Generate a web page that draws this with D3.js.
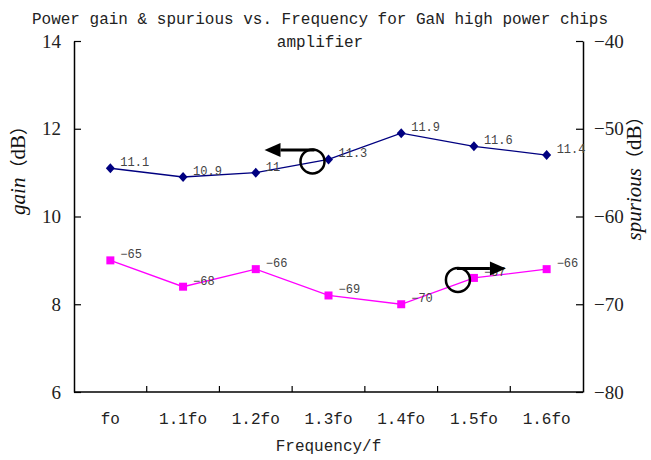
<!DOCTYPE html>
<html>
<head>
<meta charset="utf-8">
<script src="https://cdn.jsdelivr.net/npm/d3@7"></script>
<style>
  html, body { margin: 0; padding: 0; background: #fff; }
  svg { display: block; }
  .serif { font-family: "Liberation Serif", "Times New Roman", "DejaVu Serif", serif; }
  .mono { font-family: "Liberation Mono", "DejaVu Sans Mono", monospace; }
  .cjk { font-family: "Noto Sans CJK SC", sans-serif; }
</style>
</head>
<body>
<svg id="chart" width="651" height="460"></svg>
<script>
const categories = ["fo", "1.1fo", "1.2fo", "1.3fo", "1.4fo", "1.5fo", "1.6fo"];
const gain = [11.1, 10.9, 11, 11.3, 11.9, 11.6, 11.4];
const spurious = [-65, -68, -66, -69, -70, -67, -66];
const gainTicks = [6, 8, 10, 12, 14];
const spurTicks = [-80, -70, -60, -50, -40];
const titleLines = ["Power gain & spurious vs. Frequency for GaN high power chips", "amplifier"];
const xTitle = "Frequency/f";

const W = 651, H = 460;
const plot = { left: 74, right: 583, top: 41, bottom: 392 };
const svg = d3.select("#chart");

const x = d3.scaleBand().domain(categories).range([plot.left, plot.right]).paddingInner(0).paddingOuter(0);
const yL = d3.scaleLinear().domain([6, 14]).range([plot.bottom, plot.top]);
const yR = d3.scaleLinear().domain([-80, -40]).range([plot.bottom, plot.top]);
const cx = c => x(c) + x.bandwidth() / 2;

const minus = s => String(s).replace("-", "\u2212");

// Title
svg.append("g").selectAll("text").data(titleLines).join("text")
  .attr("class", "mono")
  .attr("x", 320).attr("y", (d, i) => 24 + i * 23)
  .attr("text-anchor", "middle")
  .attr("font-size", 16).attr("fill", "#222")
  .text(d => d);

// Left axis
const gL = svg.append("g").attr("transform", `translate(${plot.left},0)`)
  .call(d3.axisLeft(yL).tickValues(gainTicks).tickSizeInner(-7).tickSizeOuter(0).tickPadding(13));
gL.attr("font-family", null);
gL.select(".domain").attr("stroke", "#000").attr("stroke-width", 1.5);
gL.selectAll(".tick line").attr("stroke", "#000").attr("stroke-width", 1.2);
gL.selectAll(".tick text").attr("class", "serif").attr("font-size", 19).attr("fill", "#222");

// Right axis
const gR = svg.append("g").attr("transform", `translate(${plot.right},0)`)
  .call(d3.axisRight(yR).tickValues(spurTicks).tickSizeInner(-7).tickSizeOuter(0).tickPadding(11));
gR.attr("font-family", null);
gR.select(".domain").attr("stroke", "#000").attr("stroke-width", 1.5);
gR.selectAll(".tick line").attr("stroke", "#000").attr("stroke-width", 1.2);
gR.selectAll(".tick text").attr("class", "serif").attr("font-size", 19).attr("fill", "#222");

// Bottom axis line
svg.append("line")
  .attr("x1", plot.left).attr("x2", plot.right)
  .attr("y1", plot.bottom).attr("y2", plot.bottom)
  .attr("stroke", "#000").attr("stroke-width", 1.5);
// Category boundary ticks (inward)
svg.append("g").selectAll("line").data(categories.slice(1)).join("line")
  .attr("x1", d => x(d)).attr("x2", d => x(d))
  .attr("y1", plot.bottom).attr("y2", plot.bottom - 6)
  .attr("stroke", "#000").attr("stroke-width", 1.2);
// Category labels
svg.append("g").selectAll("text").data(categories).join("text")
  .attr("class", "mono")
  .attr("x", d => cx(d)).attr("y", plot.bottom + 32)
  .attr("text-anchor", "middle")
  .attr("font-size", 16).attr("fill", "#222")
  .text(d => d);

// Axis titles
svg.append("text")
  .attr("class", "mono")
  .attr("x", plot.left + (plot.right - plot.left) / 2).attr("y", 451)
  .attr("text-anchor", "middle")
  .attr("font-size", 16).attr("fill", "#222")
  .text(xTitle);

function axisTitle(tx, ty, word) {
  const t = svg.append("text")
    .attr("class", "serif")
    .attr("transform", `translate(${tx},${ty}) rotate(-90)`)
    .attr("text-anchor", "middle")
    .attr("font-size", 21).attr("fill", "#111");
  t.append("tspan").attr("font-style", "italic").text(word);
  t.append("tspan").attr("class", "cjk").attr("font-size", 18).text("（");
  t.append("tspan").text("dB");
  t.append("tspan").attr("class", "cjk").attr("font-size", 18).text("）");
}
axisTitle(25, 166, "gain");
axisTitle(641, 174, "spurious");

// Series data
const gainData = categories.map((c, i) => ({ c, v: gain[i] }));
const spurData = categories.map((c, i) => ({ c, v: spurious[i] }));

svg.append("path").datum(gainData)
  .attr("fill", "none").attr("stroke", "#000080").attr("stroke-width", 1.3)
  .attr("d", d3.line().x(d => cx(d.c)).y(d => yL(d.v)));
svg.append("g").selectAll("path").data(gainData).join("path")
  .attr("transform", d => `translate(${cx(d.c)},${yL(d.v)})`)
  .attr("d", "M0,-5L4.5,0L0,5L-4.5,0Z")
  .attr("fill", "#000080");

svg.append("path").datum(spurData)
  .attr("fill", "none").attr("stroke", "#FF00FF").attr("stroke-width", 1.3)
  .attr("d", d3.line().x(d => cx(d.c)).y(d => yR(d.v)));
svg.append("g").selectAll("rect").data(spurData).join("rect")
  .attr("x", d => cx(d.c) - 4).attr("y", d => yR(d.v) - 4)
  .attr("width", 8).attr("height", 8)
  .attr("fill", "#FF00FF");

// Data labels
svg.append("g").selectAll("text").data(gainData).join("text")
  .attr("class", "mono")
  .attr("x", d => cx(d.c) + 10).attr("y", d => yL(d.v) - 2)
  .attr("font-size", 12).attr("fill", "#444")
  .text(d => String(d.v));
svg.append("g").selectAll("text").data(spurData).join("text")
  .attr("class", "mono")
  .attr("x", d => cx(d.c) + 10).attr("y", d => yR(d.v) - 2)
  .attr("font-size", 12).attr("fill", "#444")
  .text(d => minus(d.v));

// Annotation arrows (anchored to series points)
function arrow(px, py, dir) {
  const ccx = px - 16, ccy = py + 2, r = 12;
  const g = svg.append("g");
  g.append("circle").attr("cx", ccx).attr("cy", ccy).attr("r", r)
    .attr("fill", "none").attr("stroke", "#000").attr("stroke-width", 2.5);
  const ly = ccy - r + 0.5;
  const base = ccx + dir * 32, tip = ccx + dir * 48;
  g.append("line").attr("x1", ccx + (dir < 0 ? 2 : -1)).attr("x2", base)
    .attr("y1", ly).attr("y2", ly)
    .attr("stroke", "#000").attr("stroke-width", 3);
  g.append("path")
    .attr("d", `M${tip},${ly}L${base},${ly - 7}L${base},${ly + 7}Z`)
    .attr("fill", "#000");
}
arrow(cx("1.3fo"), yL(gain[3]), -1);
arrow(cx("1.5fo"), yR(spurious[5]), 1);
</script>
</body>
</html>
